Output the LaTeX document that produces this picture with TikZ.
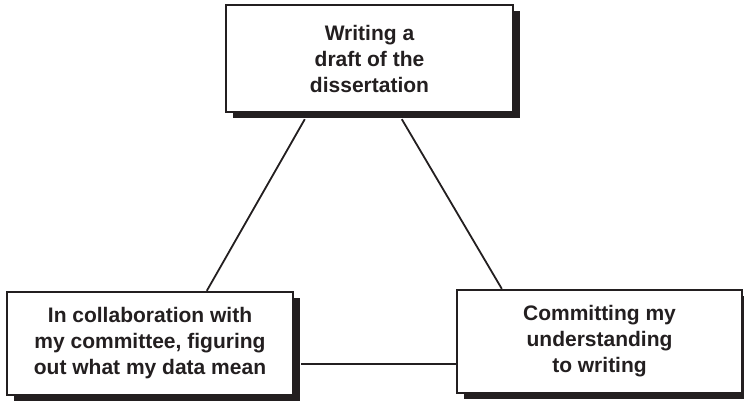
\documentclass[tikz,border=0pt]{standalone}
\usepackage{fontspec}
\setmainfont{Liberation Sans}
\usetikzlibrary{shadows,calc}
\definecolor{ink}{HTML}{231F20}
\begin{document}
\begin{tikzpicture}[x=1pt,y=-1pt,
  box/.style={draw=ink, line width=2.4pt, fill=white, align=center, inner sep=0pt,
    font=\fontsize{21}{26}\selectfont\bfseries, text=ink,
    drop shadow={shadow xshift=7pt, shadow yshift=-6pt, fill=ink, opacity=1}},
  link/.style={draw=ink, line width=1.8pt}]
\useasboundingbox (0,0) rectangle (744,400);
\node[box, minimum width=287pt, minimum height=107pt] (top) at (369.5,58.5)
  {Writing a\\draft of the\\dissertation};
\node[box, minimum width=286pt, minimum height=103pt] (left) at (150,343.5)
  {In collaboration with\\my committee, figuring\\out what my data mean};
\node[box, minimum width=285pt, minimum height=103pt] (right) at (599.5,341.5)
  {Committing my\\understanding\\to writing};
\draw[link] ($(top.south west)+(80,6)$) -- ($(left.north west)+(201,0)$);
\draw[link] ($(top.south west)+(177,6)$) -- ($(right.north west)+(46,0)$);
\draw[link] ($(left.north east)+(7,73)$) -- ($(right.north west)+(0,75)$);
\end{tikzpicture}
\end{document}
